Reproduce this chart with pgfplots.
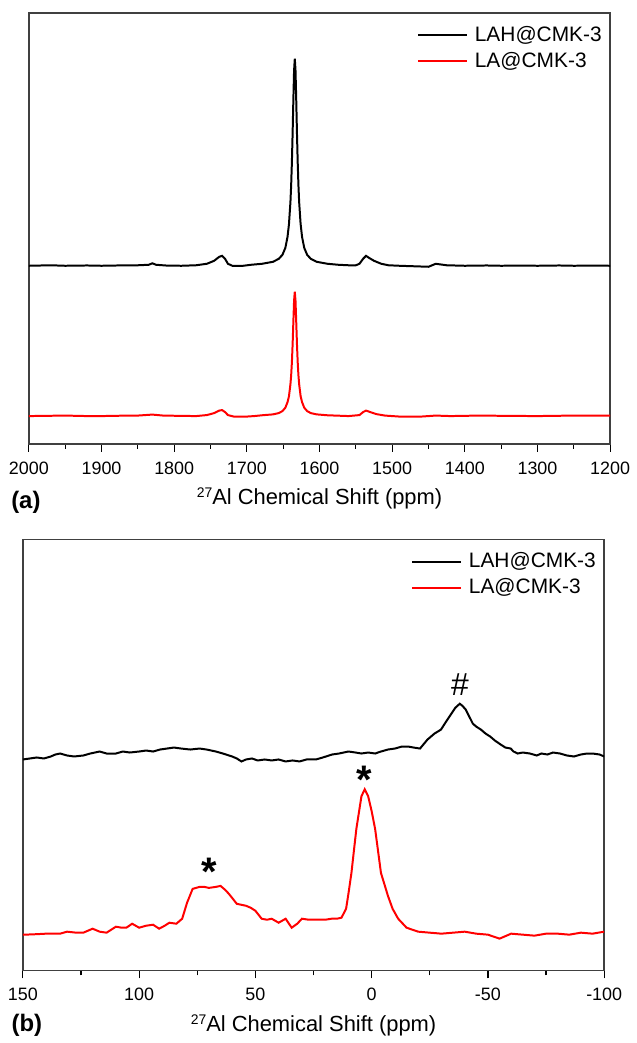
\documentclass[border=0pt]{standalone}
\usepackage{fontspec}
\setmainfont{Liberation Sans}
\setsansfont{Liberation Sans}
\usepackage{pgfplots}
\pgfplotsset{compat=1.18}

\pgfplotsset{
  nmr/.style={
    scale only axis,
    width=292pt, height=216.5pt,
    x dir=reverse,
    axis line style={black!75, line width=0.75pt},
    ytick=\empty,
    xtick pos=bottom,
    tick align=outside,
    major tick length=4pt,
    minor tick length=2.5pt,
    every tick/.style={black, line width=0.6pt},
    minor x tick num=1,
    /pgf/number format/assume math mode=true,
    /pgf/number format/1000 sep={},
    xticklabel style={font=\fontsize{9}{10}\selectfont, yshift=-1.5pt},
    every axis x label/.style={at={(axis description cs:0.5,0)}, anchor=center, yshift=-27.5pt, font=\fontsize{11}{12}\selectfont},
    legend style={at={(1,1)}, anchor=north east, xshift=-3pt, yshift=-4.5pt,
      draw=none, fill=none, inner sep=0pt, font=\fontsize{10.5}{12}\selectfont,
      nodes={inner sep=1pt, text height=8.5pt, text depth=2.5pt},
      /tikz/every odd column/.append style={column sep=2.5pt}},
    legend cell align=left,
    legend image code/.code={\draw[#1, line width=1pt] (0pt,0pt) -- (24.5pt,0pt);},
  }
}

\begin{document}
\begin{tikzpicture}
\path (0,0) rectangle (316.5pt,-521.5pt);

% (a)
\begin{axis}[nmr,
  at={(14.5pt,-223pt)}, anchor=south west,
  xmin=1200, xmax=2000, ymin=0, ymax=433,
  xtick={1200,1300,...,2000},
  xlabel={{\fontsize{7}{7}\selectfont\raisebox{3.5pt}{27}}Al Chemical Shift (ppm)},
]
\addplot[black, line width=1pt] coordinates {
(2000,179) (1970,179.5) (1950,179) (1920,179.3) (1900,179) (1870,179.4) (1850,179.5) (1835,180) (1830,181.5) (1825,180) (1810,179.2)
(1790,179) (1770,179.5) (1755,181) (1745,184) (1738,188) (1734,189) (1730,186) (1726,181) (1720,179) (1705,179) (1694,180)
(1679,181) (1664,183) (1656,186) (1651,190) (1647,197) (1644,208) (1642,221) (1640,243) (1639,260) (1638,283) (1637,312)
(1636,345) (1635,375) (1634,387) (1633,375) (1632,345) (1631,312) (1630,283) (1629,260) (1628,243) (1626,221) (1624,208)
(1621,197) (1617,190) (1612,186) (1604,183) (1589,181) (1574,180) (1560,179.5) (1550,179.5) (1545,181) (1540,186) (1536,189)
(1532,187) (1525,184) (1515,181) (1505,179.5) (1490,179) (1470,178.5) (1450,178) (1445,179.5) (1440,181) (1435,180.5)
(1425,179.5) (1400,179) (1370,179.3) (1350,179) (1320,179.2) (1300,179) (1270,179.3) (1250,179) (1220,179.2) (1200,179)
};
\addlegendentry{LAH@CMK-3}
\addplot[red, line width=1pt] coordinates {
(2000,28) (1970,28.3) (1950,28.5) (1920,28) (1900,28) (1870,28.4) (1850,28.5) (1830,29.5) (1815,28.5) (1790,28.2) (1770,28)
(1755,29) (1745,31) (1738,33.5) (1734,34) (1730,32) (1726,29) (1718,27.5) (1700,27.5) (1690,28) (1679,28.8) (1664,29.7)
(1656,31) (1651,33) (1647,36.4) (1644,42) (1642,48) (1640,60) (1639,69) (1638,82) (1637,100) (1636,122) (1635,143.6) (1634,153)
(1633,143.6) (1632,122) (1631,100) (1630,82) (1629,69) (1628,60) (1626,48) (1624,42) (1621,36.4) (1617,33) (1612,31)
(1604,29.7) (1589,28.8) (1560,28) (1545,29) (1540,32) (1536,33.5) (1530,32) (1522,30) (1510,28.5) (1490,27.5) (1460,27.5)
(1440,28.5) (1420,28) (1380,28.5) (1340,28.2) (1300,28) (1250,28.5) (1200,28.5)
};
\addlegendentry{LA@CMK-3}
\end{axis}

% (b)
\begin{axis}[nmr,
  at={(11.5pt,-487.5pt)}, anchor=south west,
  xmin=-100, xmax=150, ymin=-2, ymax=431,
  xtick={-100,-50,...,150},
  xlabel={{\fontsize{7}{7}\selectfont\raisebox{3.5pt}{27}}Al Chemical Shift (ppm)},
]
\addplot[black, line width=1pt] coordinates {
(150,210) (147,211) (144,212) (141,211) (138,213) (136,215) (134,216) (131,214) (128,213) (124,214) (121,216) (117,218)
(114,216) (110,216) (107,218) (104,217) (100,218) (97,219) (94,218) (91,220) (88,221) (85,222) (82,221) (78,220) (74,221)
(71,220) (67,218) (64,216) (60,213) (58,211) (56,208) (54,210) (51.5,211) (49,209) (46,210) (43,209) (40,210) (37,208)
(34,209) (31,208) (28,210) (24,210) (21,212) (17,215) (14,216) (10,218) (7,217) (4.4,216) (1.5,217) (-1.5,216) (-4,218)
(-7,220) (-10,221) (-13,223) (-15.7,223) (-18,222) (-20.8,221) (-24,230) (-27,236) (-29.8,240) (-32,248) (-34,255) (-36,262)
(-37.9,266) (-39,264) (-40.5,260) (-42,253) (-43.5,246) (-45,243) (-47,240) (-49,236) (-51,233) (-53,229) (-55.5,225)
(-57.5,222) (-59.8,221) (-61,218) (-62.8,216) (-65,217) (-68,216) (-71,214) (-73,216) (-75.6,215) (-78,217) (-81,216)
(-84,214) (-87,213) (-90,215) (-92.7,216) (-95,216) (-98,215) (-100,213)
};
\addlegendentry{LAH@CMK-3}
\addplot[red, line width=1pt] coordinates {
(150,34) (149,34) (144,34.5) (140,35) (134,35) (131,37) (127,36) (124,36) (120,40) (117,37) (114,36) (110,42) (107.5,41)
(105.5,41) (103,45) (100,41) (97,43) (94,44) (91.4,40) (89,43) (87,46) (84,45) (81.5,50) (79.4,66) (77,80) (74,82) (72,82)
(70,81) (67,82) (65,83) (63,79) (61.4,75) (58,65) (56,64) (54,63) (52,61) (50,58) (47.3,50) (45,49) (43,50) (40,46) (37,50)
(34.4,41) (32,45) (30,50) (27,49) (24,49) (20,49) (17.3,50) (15,50) (13,51) (11,60) (10,75) (8.7,96) (6.6,140) (4.4,173)
(3,180) (1.5,173) (0,158) (-1.5,140) (-4,96) (-7,73) (-9,60) (-11.4,50) (-15,41) (-20,37) (-25,36) (-30,35) (-35,36) (-40,37)
(-45,35) (-50,34) (-55,30) (-60,35) (-65,34) (-70,33) (-75,35) (-80,35) (-85,34) (-90,36) (-95,35) (-100,37)
};
\addlegendentry{LA@CMK-3}
\node[font=\fontsize{16}{16}\selectfont] at (axis cs:-38,285) {\#};
\node[font=\bfseries\fontsize{20}{20}\selectfont] at (axis cs:3,190) {*};
\node[font=\bfseries\fontsize{20}{20}\selectfont] at (axis cs:70,97) {*};
\end{axis}

\node[font=\bfseries\fontsize{12}{12}\selectfont] at (13pt,-252.5pt) {(a)};
\node[font=\bfseries\fontsize{12}{12}\selectfont] at (13.5pt,-515pt) {(b)};
\end{tikzpicture}
\end{document}
